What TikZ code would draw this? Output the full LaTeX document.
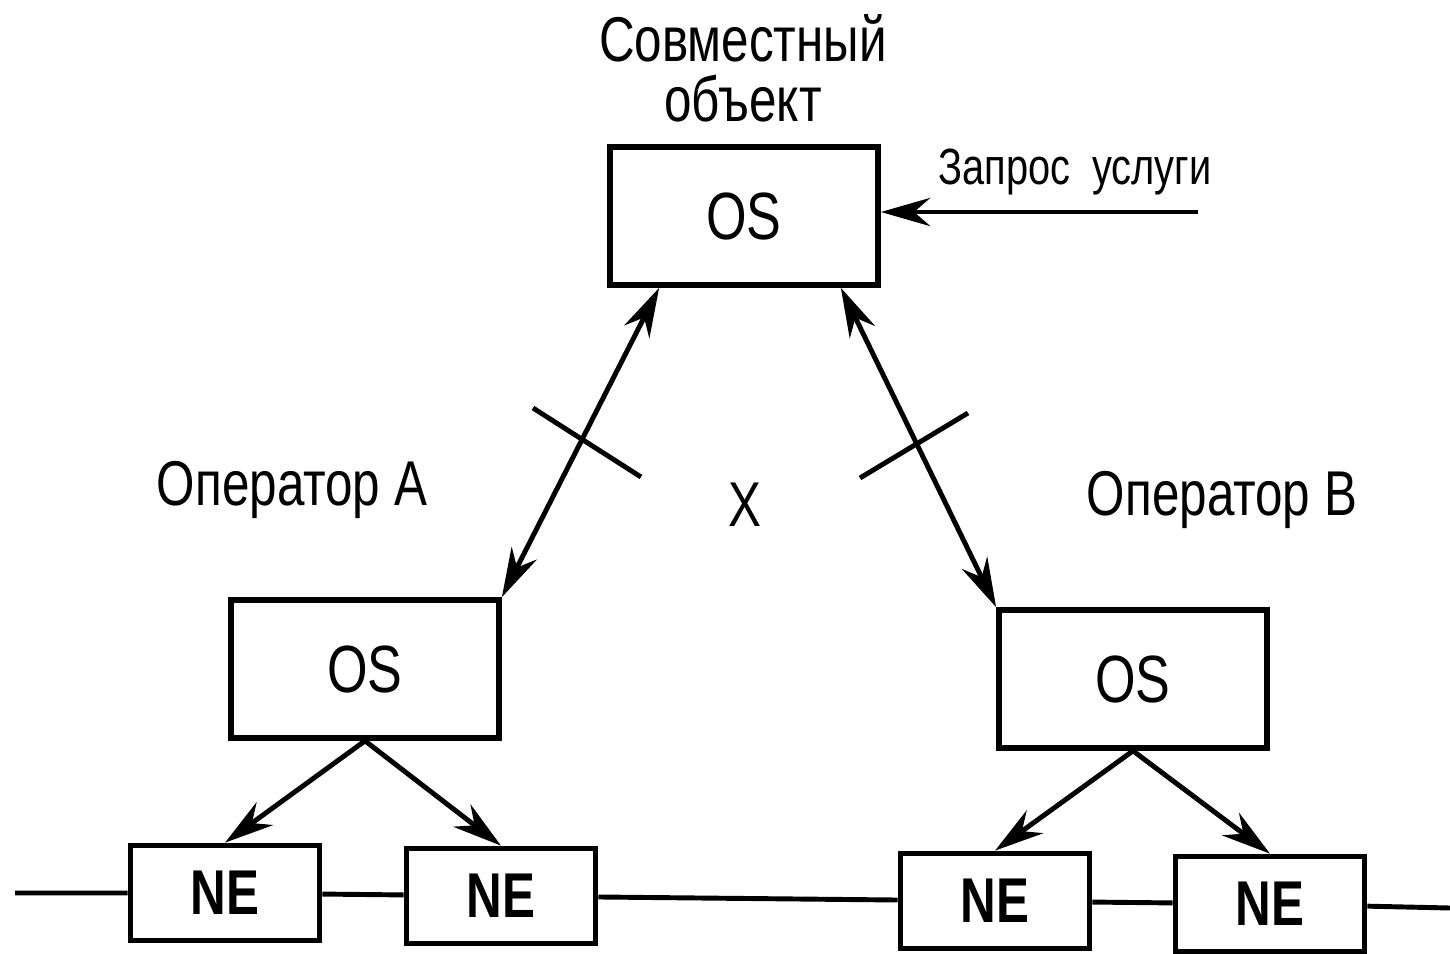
\documentclass[tikz,border=0pt]{standalone}
\usepackage{fontspec}
\setmainfont{Liberation Sans}[FakeStretch=0.78]
\usetikzlibrary{arrows.meta}
\begin{document}
\begin{tikzpicture}[x=0.01cm, y=-0.01cm,
  osbox/.style={draw, line width=1.6pt, minimum width=2.68cm, minimum height=1.38cm, inner sep=0pt, font=\fontsize{19}{22}\selectfont},
  nebox/.style={draw, line width=1.6pt, minimum width=1.89cm, minimum height=0.95cm, inner sep=0pt, font=\fontsize{18}{21}\selectfont\bfseries},
  lbl/.style={font=\fontsize{18}{21}\selectfont, align=center},
  link/.style={line width=1.4pt, -{Stealth[length=14pt, width=8pt]}},
  link2/.style={line width=1.4pt, {Stealth[length=14pt, width=8pt]}-{Stealth[length=14pt, width=8pt]}}]
  \useasboundingbox (0,0) rectangle (1450,954);
  % operating systems
  \node[osbox] (top) at (744,216) {OS};
  \node[osbox] (osA) at (365,669) {OS};
  \node[osbox] (osB) at (1133,679) {OS};
  % network elements
  \foreach \n/\x/\y in {neA1/225/893, neA2/501/896, neB1/995/901, neB2/1270/904}
    \node[nebox] (\n) at (\x,\y) {NE};
  % labels
  \node[lbl, font=\fontsize{18}{17}\selectfont] (joint) at (743,68) {Совместный\\объект};
  \node[lbl, font=\fontsize{14.5}{17}\selectfont, anchor=west] (req) at (926,172) {Запрос\ \ услуги};
  \node[lbl] (opA) at (292,490) {Оператор A};
  \node[lbl] (opB) at (1222,500) {Оператор B};
  \node[lbl] (cut) at (745,505) {X};
  % service request
  \coordinate (reqend) at (1198,212);
  \draw[link] (reqend) -- (reqend -| top.east);
  % links to joint OS
  \draw[link2] ([xshift=0.52cm]top.south west) -- (osA.north east);
  \draw[link2] ([xshift=-0.4cm]top.south east) -- (osB.north west);
  \draw[line width=1.4pt] (533,408) -- (641,477);
  \draw[line width=1.4pt] (860,478) -- (968,413);
  % management of network elements
  \foreach \o/\e in {osA/neA1, osA/neA2, osB/neB1, osB/neB2}
    \draw[link] (\o.south) -- (\e.north);
  % transmission line
  \coordinate (lend) at (15,893);
  \coordinate (rend) at (1450,908);
  \draw[line width=1.4pt] (lend) -- (neA1) -- (neA2) -- (neB1) -- (neB2) -- (rend);
\end{tikzpicture}
\end{document}
